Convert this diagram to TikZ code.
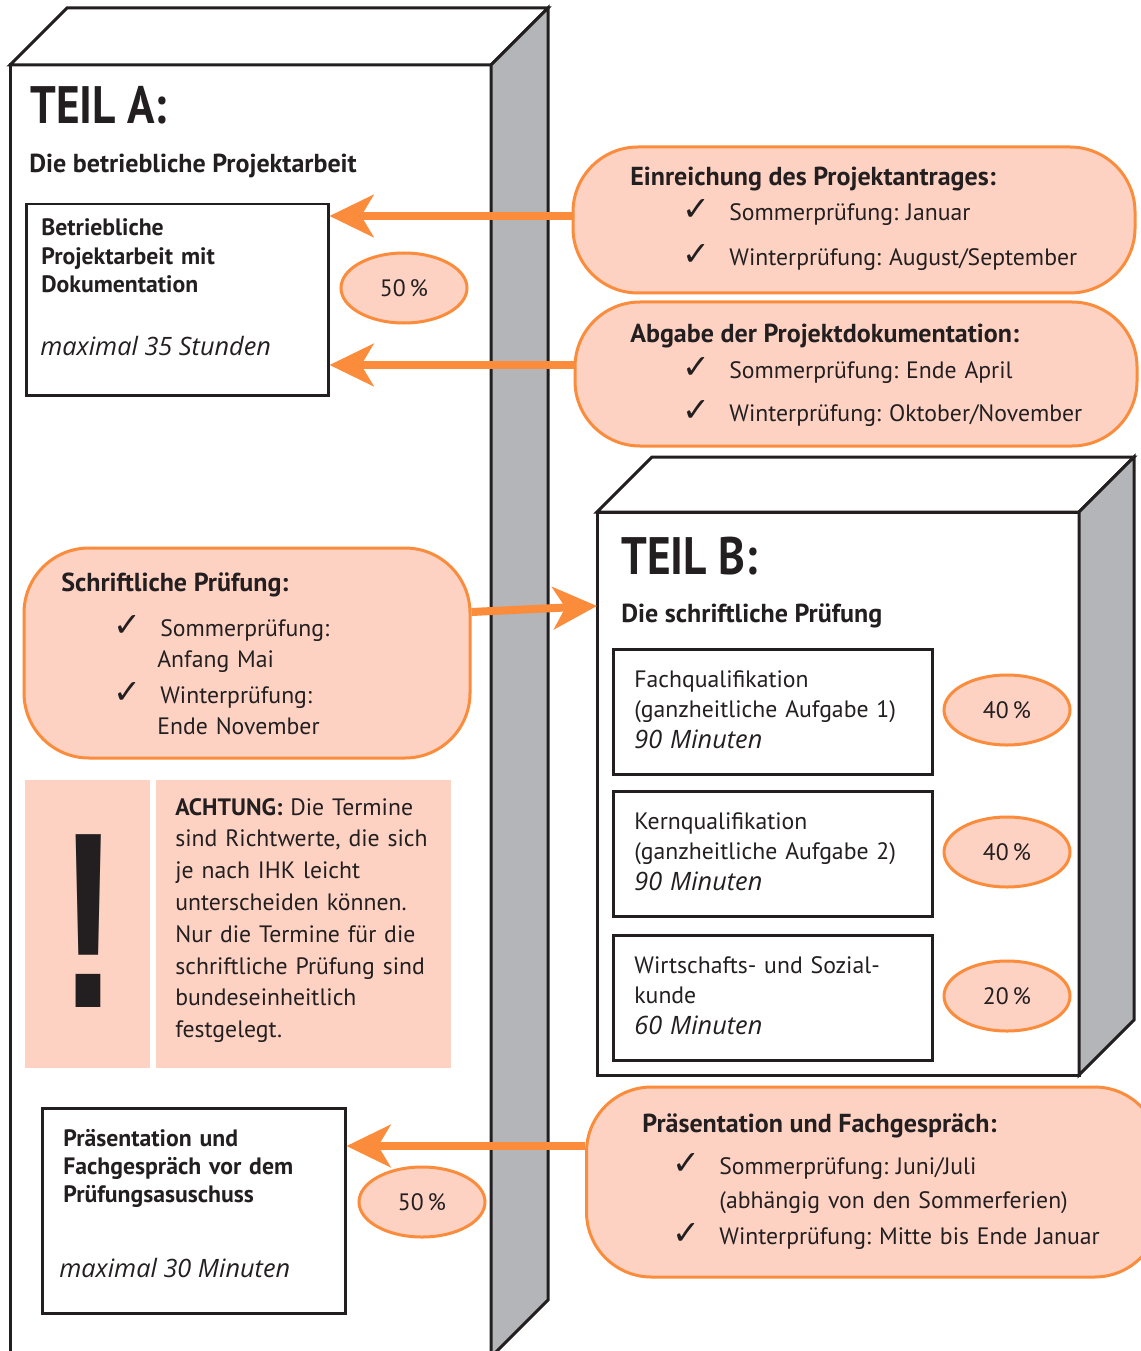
\documentclass[tikz,border=0pt]{standalone}
\usepackage{fontspec}
\setmainfont{PT Sans}
\newfontfamily\symfont{DejaVu Sans}
\newfontfamily\itfont{Open Sans}
\newfontfamily\bangfont{Liberation Sans}
\usepackage{graphicx}
\usetikzlibrary{arrows.meta,shapes.geometric}
\frenchspacing
\definecolor{pfOrange}{RGB}{250,140,60}
\definecolor{pfSalmon}{RGB}{253,210,195}
\definecolor{pfGray}{RGB}{180,181,185}
\definecolor{pfInk}{RGB}{35,31,32}
\newlength\px
\setlength\px{0.02cm}
\newcommand\minutes[1]{{\itfont\itshape\fontsize{14.4}{17.6}\selectfont #1}}
\newcommand\drawBlock[5]{
  \draw[blockline, fill=white] (#1,#2) rectangle (#3,#4);
  \draw[blockline, fill=white] (#1,#2) -- (#1+#5,#2-#5) -- (#3+#5,#2-#5) -- (#3,#2) -- cycle;
  \draw[blockline, fill=pfGray] (#3,#2) -- (#3+#5,#2-#5) -- (#3+#5,#4-#5) -- (#3,#4) -- cycle;
}
\newcommand\checkLine[4]{
  \node[chk] (#1c) at (#2,#3) {\symfont ✓};
  \node[txt, text width=440*\px, align=left] (#1) at (#2+47,#3) {#4};
}
\tikzset{
  blockline/.style={line width=3*\px, draw=pfInk},
  box/.style={draw=pfInk, line width=2.5*\px, fill=white, inner sep=0pt, anchor=north west},
  bubble/.style={draw=pfOrange, fill=pfSalmon, line width=3*\px, rounded corners=65*\px, inner sep=0pt},
  pct/.style={ellipse, draw=pfOrange, fill=pfSalmon, line width=3*\px, minimum width=126*\px,
    minimum height=70*\px, inner sep=0pt, text=pfInk, font=\fontsize{13.5}{16}\selectfont},
  txt/.style={anchor=base west, inner sep=0pt, text=pfInk, font=\fontsize{13.5}{18.1}\selectfont},
  hd/.style={txt, font=\fontsize{14.8}{16.2}\selectfont\bfseries},
  boxhd/.style={txt, font=\fontsize{13.5}{16.2}\selectfont\bfseries},
  bigtitle/.style={txt, font=\fontsize{30}{30}\selectfont\bfseries},
  chk/.style={anchor=base west, inner sep=0pt, text=pfInk, font=\fontsize{19}{19}\selectfont},
  warnfield/.style={fill=pfSalmon, inner sep=0pt, anchor=north west, minimum height=288*\px},
  arr/.style={draw=pfOrange, line width=8*\px, -{Stealth[length=25pt, width=24pt, inset=7pt]}},
}
\begin{document}
\begin{tikzpicture}[x=0.02cm, y=-0.02cm]
  \useasboundingbox (0,0) rectangle (1141,1351);
  \clip (0,0) rectangle (1141,1351);

  \begin{scope}
    \drawBlock{10}{65}{491}{1357}{57}

    \node[bigtitle] (teilA) at (30,124) {\scalebox{0.86}[1]{TEIL A:}};
    \node[hd] (teilAsub) at (29,173) {Die betriebliche Projektarbeit};

    \node[box, minimum width=302*\px, minimum height=191*\px] (projbox) at (25,203) {};
    \node[boxhd, text width=270*\px, align=left] (projtxt) at (41,236) {Betriebliche\\Projektarbeit mit\\Dokumentation};
    \node[txt] (projtime) at (40,355) {\minutes{maximal 35 Stunden}};
    \node[pct] (projpct) at (404,288) {50\,\%};

    \node[bubble, minimum width=446*\px, minimum height=210*\px] (schr) at (247,653) {};
    \node[hd] (schrhd) at (61,591) {Schriftliche Prüfung:};
    \checkLine{schrS}{113}{636}{Sommerprüfung:\\\hspace*{-3\px}Anfang Mai}
    \checkLine{schrW}{113}{703}{Winterprüfung:\\\hspace*{-3\px}Ende November}

    \node[warnfield, minimum width=125*\px] (warnL) at (25,780) {};
    \node[warnfield, minimum width=295*\px] (warnR) at (156,780) {};
    \node[inner sep=0pt, text=pfInk, font=\fontsize{143}{143}\selectfont\bangfont\bfseries] (bang) at (89,921) {\scalebox{0.7}[1]{!}};
    \node[txt, text width=290*\px, align=left] (warntxt) at (175,815) {\textbf{ACHTUNG:} Die Termine\\sind Richtwerte, die sich\\je nach IHK leicht\\unterscheiden können.\\Nur die Termine für die\\schriftliche Prüfung sind\\bundeseinheitlich\\festgelegt.};

    \node[box, minimum width=303*\px, minimum height=205*\px] (praesbox) at (41,1107) {};
    \node[boxhd, text width=270*\px, align=left] (praestxt) at (63,1146) {Präsentation und\\Fachgespräch vor dem\\Prüfungsasuschuss};
    \node[txt] (praestime) at (59,1277) {\minutes{maximal 30 Minuten}};
    \node[pct] (praespct) at (422,1202) {50\,\%};
  \end{scope}

  \begin{scope}
    \drawBlock{597}{512}{1079}{1075}{55}
    \coordinate (teilBin) at (597,606);

    \node[bigtitle] (teilB) at (621,574) {\scalebox{0.86}[1]{TEIL B:}};
    \node[hd] (teilBsub) at (621,622) {Die schriftliche Prüfung};

    \foreach \nm/\y/\t/\p in {fach/648/{Fachqualifikation\\(ganzheitliche Aufgabe 1)\\\minutes{90 Minuten}}/40,
        kern/790/{Kernqualifikation\\(ganzheitliche Aufgabe 2)\\\minutes{90 Minuten}}/40,
        wirt/934/{Wirtschafts- und Sozial-\\kunde\\\minutes{60 Minuten}}/20} {
      \node[box, minimum width=319*\px, minimum height=125*\px] (\nm-box) at (612,\y) {};
      \node[txt, text width=290*\px, align=left, font=\fontsize{13.5}{17.6}\selectfont] (\nm-txt) at (634,\y+39) {\t};
      \node[pct] (\nm-pct) at (1007,\y+62) {\p\,\%};
    }
  \end{scope}

  \node[bubble, minimum width=562*\px, minimum height=146*\px] (einr) at (854,220) {};
  \node[hd] (einrhd) at (630,186) {Einreichung des Projektantrages:};
  \checkLine{einrS}{682}{221}{Sommerprüfung: Januar}
  \checkLine{einrW}{682}{266}{Winterprüfung: August/September}

  \node[bubble, minimum width=562*\px, minimum height=144*\px] (abg) at (856,374) {};
  \node[hd] (abghd) at (630,342) {Abgabe der Projektdokumentation:};
  \checkLine{abgS}{682}{378}{Sommerprüfung: Ende April}
  \checkLine{abgW}{682}{421}{Winterprüfung: Oktober/November}

  \node[bubble, minimum width=573*\px, minimum height=190*\px] (praes) at (873,1182) {};
  \node[hd] (praeshd) at (642,1132) {Präsentation und Fachgespräch:};
  \checkLine{praesS}{672}{1174}{Sommerprüfung: Juni/Juli\\[1.7pt](abhängig von den Sommerferien)}
  \checkLine{praesW}{672}{1244}{Winterprüfung: Mitte bis Ende Januar}

  \draw[arr] (einr.west |- 0,216) -- (projbox.east |- 0,216);
  \draw[arr] (abg.west |- 0,365) -- (projbox.east |- 0,365);
  \draw[arr] (schr.east |- 0,612) -- (teilBin);
  \draw[arr] (praes.west |- 0,1146) -- (praesbox.east |- 0,1146);
\end{tikzpicture}
\end{document}
